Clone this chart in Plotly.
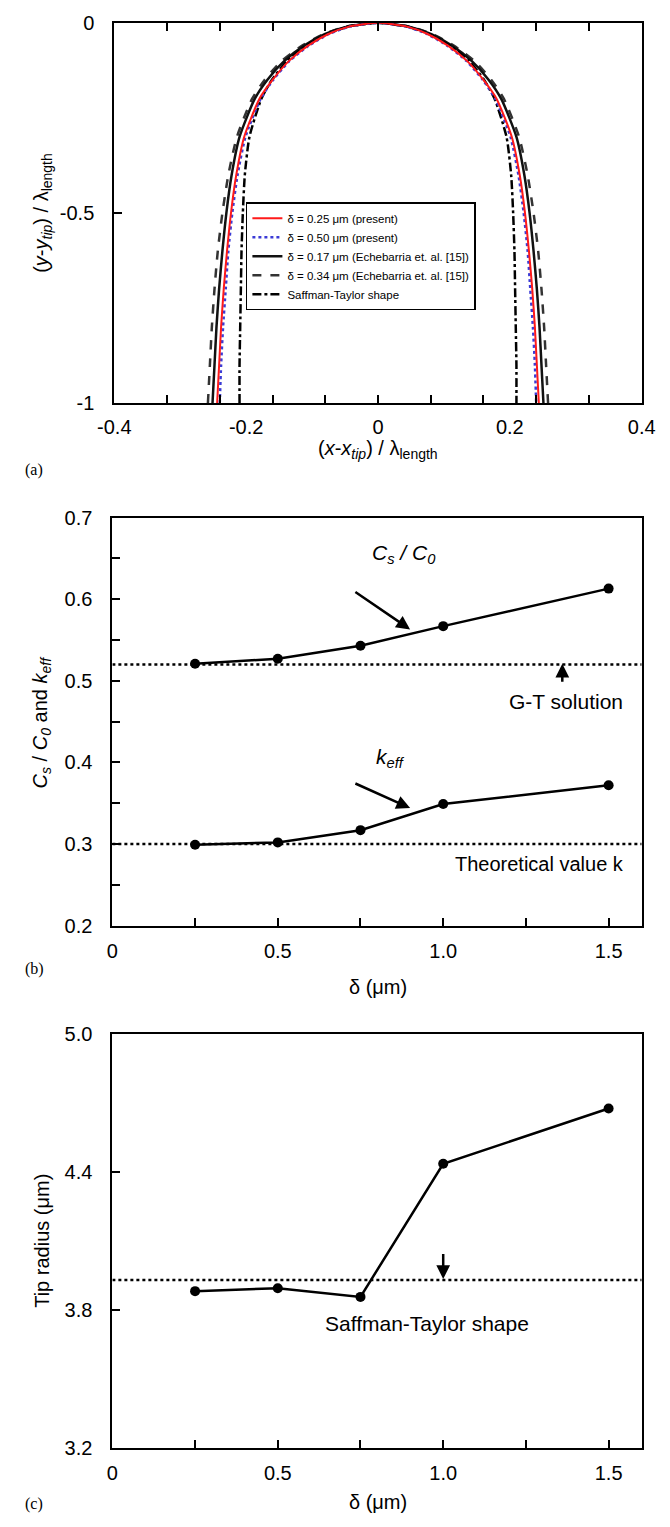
import plotly.graph_objects as go

W, H = 670, 1527

# ---------- Panel (a) data: half-widths of tip profiles at given depths ----------
y_levels = [0, -0.01, -0.03, -0.06, -0.1, -0.15, -0.2, -0.3, -0.4, -0.5, -0.6, -0.7, -0.8, -0.9, -1.0]
red_w   = [0, 0.044, 0.076, 0.106, 0.135, 0.160, 0.180, 0.203, 0.215, 0.223, 0.229, 0.234, 0.238, 0.241, 0.244]
blue_w  = [0, 0.043, 0.075, 0.105, 0.134, 0.159, 0.178, 0.201, 0.213, 0.221, 0.227, 0.231, 0.235, 0.238, 0.240]
black_w = [0, 0.047, 0.081, 0.112, 0.142, 0.168, 0.187, 0.210, 0.222, 0.230, 0.236, 0.241, 0.245, 0.248, 0.251]
dash_w  = [0, 0.048, 0.083, 0.115, 0.146, 0.172, 0.191, 0.214, 0.227, 0.236, 0.243, 0.248, 0.252, 0.255, 0.258]
st_w    = [0, 0.045, 0.078, 0.109, 0.138, 0.161, 0.177, 0.195, 0.202, 0.205, 0.207, 0.208, 0.209, 0.210, 0.210]

legend_names = [
    "δ = 0.25 μm (present)",
    "δ = 0.50 μm (present)",
    "δ = 0.17 μm (Echebarria et. al. [15])",
    "δ = 0.34 μm (Echebarria et. al. [15])",
    "Saffman-Taylor shape",
]

a_xtick_vals = [-0.4, -0.2, 0, 0.2, 0.4]
a_xtick_text = ["-0.4", "-0.2", "0", "0.2", "0.4"]
a_xminor_vals = [-0.32, -0.24, -0.16, -0.08, 0, 0.08, 0.16, 0.24, 0.32]
a_ytick_vals = [-1, -0.5, 0]
a_ytick_text = ["-1", "-0.5", "0"]

# ---------- Panel (b) data ----------
delta = [0.25, 0.5, 0.75, 1.0, 1.5]
cs_c0 = [0.521, 0.527, 0.543, 0.567, 0.613]
k_eff = [0.299, 0.302, 0.317, 0.349, 0.372]
gt_solution = 0.52
k_theory = 0.30

b_xtick_vals = [0, 0.5, 1.0, 1.5]
b_xtick_text = ["0", "0.5", "1.0", "1.5"]
b_ytick_vals = [0.2, 0.3, 0.4, 0.5, 0.6, 0.7]
b_ytick_text = ["0.2", "0.3", "0.4", "0.5", "0.6", "0.7"]

# ---------- Panel (c) data ----------
tip_radius = [3.882, 3.895, 3.857, 4.436, 4.676]
st_radius = 3.93
c_ytick_vals = [3.2, 3.8, 4.4, 5.0]
c_ytick_text = ["3.2", "3.8", "4.4", "5.0"]

FONT = "Liberation Sans, Arial, Helvetica, sans-serif"
SERIF = "Liberation Serif, Times New Roman, serif"
TICK_SIZE = 20
TITLE_SIZE = 20
ANN_SIZE = 21


def px_x(p):
    return p / W


def px_y(p):
    return 1 - p / H


def branch(widths):
    xs = [-w for w in reversed(widths)] + widths[1:]
    ys = list(reversed(y_levels)) + y_levels[1:]
    return xs, ys


fig = go.Figure()

styles = [
    (red_w, dict(color="#ff1a1a", width=2, dash="solid")),
    (blue_w, dict(color="#3b3bd6", width=2.5, dash="dot")),
    (black_w, dict(color="#111111", width=2.5, dash="solid")),
    (dash_w, dict(color="#333333", width=2.5, dash="dash")),
    (st_w, dict(color="#000000", width=2.5, dash="dashdot")),
]
order = [3, 2, 4, 1, 0]
traces = {}
for i in range(5):
    w, ln = styles[i]
    xs, ys = branch(w)
    traces[i] = go.Scatter(x=xs, y=ys, mode="lines", name=legend_names[i],
                           line=dict(shape="spline", smoothing=0.6, **ln),
                           xaxis="x", yaxis="y", legendrank=i + 1)
for i in order:
    fig.add_trace(traces[i])

# panel b
for lvl in (gt_solution, k_theory):
    fig.add_trace(go.Scatter(x=[0, 1.6], y=[lvl, lvl], mode="lines",
                             line=dict(color="black", width=2.5, dash="dot"),
                             xaxis="x2", yaxis="y2", showlegend=False))
for ser in (cs_c0, k_eff):
    fig.add_trace(go.Scatter(x=delta, y=ser, mode="lines+markers",
                             line=dict(color="black", width=2.5),
                             marker=dict(color="black", size=10),
                             xaxis="x2", yaxis="y2", showlegend=False))

# panel c
fig.add_trace(go.Scatter(x=[0, 1.6], y=[st_radius, st_radius], mode="lines",
                         line=dict(color="black", width=2.5, dash="dot"),
                         xaxis="x3", yaxis="y3", showlegend=False))
fig.add_trace(go.Scatter(x=delta, y=tip_radius, mode="lines+markers",
                         line=dict(color="black", width=2.5),
                         marker=dict(color="black", size=10),
                         xaxis="x3", yaxis="y3", showlegend=False))

tickfont = dict(family=FONT, size=TICK_SIZE, color="black")
base = dict(showgrid=False, zeroline=False, showline=True, linecolor="black",
            linewidth=2, tickfont=tickfont, tickcolor="black", ticklen=8,
            tickwidth=1.5)
minor_style = dict(ticks="inside", ticklen=8, tickwidth=1.5, tickcolor="black",
                   showgrid=False)

xdomA = [px_x(102), px_x(655)]
xdomB = [px_x(100), px_x(655)]

layout = dict(
    width=W, height=H, margin=dict(l=0, r=0, t=0, b=0),
    plot_bgcolor="white", paper_bgcolor="white",
    font=dict(family=FONT, color="black"),
    xaxis=dict(domain=xdomA, range=[-0.4, 0.4], anchor="y", tickmode="array",
               tickvals=a_xtick_vals, ticktext=a_xtick_text, ticks="",
               ticklabelstandoff=5,
               minor=dict(tickmode="array", tickvals=a_xminor_vals, **minor_style),
               mirror="ticks", **base),
    yaxis=dict(domain=[px_y(398), px_y(12)], range=[-1, 0], anchor="x",
               tickmode="array", tickvals=a_ytick_vals, ticktext=a_ytick_text,
               ticks="inside", ticklabelstandoff=14, mirror=True, **base),
    xaxis2=dict(domain=xdomB, range=[0, 1.6], anchor="y2", tickmode="array",
                tickvals=b_xtick_vals, ticktext=b_xtick_text, ticks="inside",
                ticklabelstandoff=6,
                minor=dict(dtick=0.25, tick0=0, **minor_style),
                mirror=True, **base),
    yaxis2=dict(domain=[px_y(928), px_y(514)], range=[0.2, 0.7], anchor="x2",
                tickmode="array", tickvals=b_ytick_vals, ticktext=b_ytick_text,
                ticks="inside", ticklabelstandoff=14,
                minor=dict(dtick=0.05, tick0=0.2, **minor_style),
                mirror=True, **base),
    xaxis3=dict(domain=xdomB, range=[0, 1.6], anchor="y3", tickmode="array",
                tickvals=b_xtick_vals, ticktext=b_xtick_text, ticks="inside",
                ticklabelstandoff=6,
                minor=dict(dtick=0.25, tick0=0, **minor_style),
                mirror=True, **base),
    yaxis3=dict(domain=[px_y(1458), px_y(1038)], range=[3.2, 5.0], anchor="x3",
                tickmode="array", tickvals=c_ytick_vals, ticktext=c_ytick_text,
                ticks="inside", ticklabelstandoff=14, mirror=True, **base),
    legend=dict(x=px_x(240), y=px_y(194), xanchor="left", yanchor="top",
                bordercolor="black", borderwidth=1.5, bgcolor="white",
                font=dict(family=FONT, size=11.5, color="black"),
                tracegroupgap=0, itemwidth=30),
    showlegend=True,
)

ann = []


def text_ann(x, y, text, size=ANN_SIZE, xref="paper", yref="paper", angle=0, family=FONT,
             xanchor="center"):
    ann.append(dict(x=x, y=y, xref=xref, yref=yref, text=text, showarrow=False,
                    textangle=angle, xanchor=xanchor, yanchor="middle",
                    font=dict(family=family, size=size, color="black")))


def arrow(xh, yh, xt, yt, xr, yr):
    ann.append(dict(x=xh, y=yh, ax=xt, ay=yt, xref=xr, yref=yr, axref=xr, ayref=yr,
                    text="", showarrow=True, arrowhead=2, arrowsize=1.1,
                    arrowwidth=2.5, arrowcolor="black"))


# axis titles
text_ann(px_x(378), px_y(445), "(<i>x</i>-<i>x</i><sub><i>tip</i></sub>) / λ<sub>length</sub>", TITLE_SIZE)
text_ann(px_x(26), px_y(205), "(<i>y</i>-<i>y</i><sub><i>tip</i></sub>) / λ<sub>length</sub>", TITLE_SIZE, angle=-90)
text_ann(px_x(6), px_y(466), "(a)", 16, family=SERIF, xanchor="left")

text_ann(px_x(378), px_y(990), "δ (μm)", TITLE_SIZE)
text_ann(px_x(26), px_y(721),
         "<i>C</i><sub><i>s</i></sub> / <i>C</i><sub><i>0</i></sub> and <i>k</i><sub><i>eff</i></sub>",
         TITLE_SIZE, angle=-90)
text_ann(px_x(6), px_y(972), "(b)", 16, family=SERIF, xanchor="left")

text_ann(px_x(378), px_y(1513), "δ (μm)", TITLE_SIZE)
text_ann(px_x(26), px_y(1248), "Tip radius (μm)", TITLE_SIZE, angle=-90)
text_ann(px_x(6), px_y(1515), "(c)", 16, family=SERIF, xanchor="left")

# panel b annotations
text_ann(0.88, 0.655, "<i>C</i><sub><i>s</i></sub><i> / C</i><sub><i>0</i></sub>", ANN_SIZE, "x2", "y2")
arrow(0.90, 0.563, 0.73, 0.61, "x2", "y2")
text_ann(1.37, 0.475, "G-T solution", ANN_SIZE, "x2", "y2")
arrow(1.36, 0.521, 1.36, 0.497, "x2", "y2")
text_ann(0.84, 0.405, "<i>k</i><sub><i>eff</i></sub>", ANN_SIZE, "x2", "y2")
arrow(0.90, 0.344, 0.73, 0.375, "x2", "y2")
text_ann(1.29, 0.275, "Theoretical value k", 20, "x2", "y2")

# panel c annotations
arrow(1.0, 3.935, 1.0, 4.05, "x3", "y3")
text_ann(0.95, 3.74, "Saffman-Taylor shape", ANN_SIZE, "x3", "y3")

layout["annotations"] = ann
fig.update_layout(**layout)

fig.write_html("out.html")
